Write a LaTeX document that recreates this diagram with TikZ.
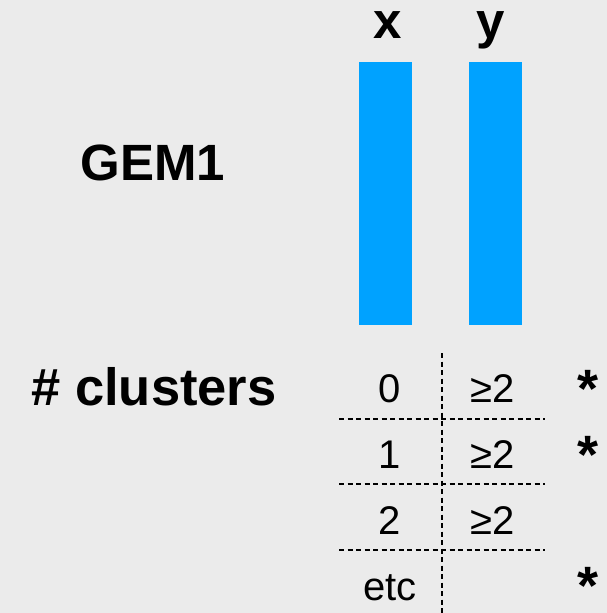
\documentclass[tikz,border=0pt]{standalone}
\usepackage{fontspec}
\setmainfont{Liberation Sans}
\begin{document}
\begin{tikzpicture}[x=1pt,y=-1pt,
  bar/.style={fill=stripblue,draw=none},
  head/.style={font=\fontsize{51}{60}\selectfont\bfseries,anchor=base,inner sep=0pt},
  cell/.style={font=\fontsize{40}{48}\selectfont,anchor=base,inner sep=0pt},
  starmark/.style={font=\fontsize{54}{60}\selectfont\bfseries,anchor=base,inner sep=0pt},
  sep/.style={line width=2.2pt,dash pattern=on 5pt off 3.5pt}]
\definecolor{stripblue}{HTML}{00A2FF}
\definecolor{bg}{HTML}{EBEBEB}
% page background and extent
\fill[bg] (0,0) rectangle (607,613);
\useasboundingbox (0,0) rectangle (607,613);
% strip planes
\fill[bar] (359,62) rectangle (412,325);
\fill[bar] (469,62) rectangle (522,325);
\node[head] (lx) at (388,38) {x};
\node[head] (ly) at (491,38) {y};
\node[head] (gem) at (153,180) {GEM1};
\node[head,font=\fontsize{52.5}{60}\selectfont\bfseries] (ncl) at (154,405) {\# clusters};
% cluster count table
\coordinate (vt) at (442,353);
\coordinate (vb) at (442,613);
\draw[sep] (vt) -- (vb);
\foreach \yy/\nm in {419/a,484/b,550/c}{
  \coordinate (l\nm) at (339,\yy);
  \coordinate (r\nm) at (545,\yy);
  \draw[sep] (l\nm) -- (r\nm);
}
\node[cell] (c0) at (390,402) {0};
\node[cell] (d0) at (493,402) {≥2};
\node[starmark] (s0) at (588,407) {*};
\node[cell] (c1) at (390,468) {1};
\node[cell] (d1) at (493,468) {≥2};
\node[starmark] (s1) at (588,473) {*};
\node[cell] (c2) at (390,534) {2};
\node[cell] (d2) at (493,534) {≥2};
\node[cell] (c3) at (390,600) {etc};
\node[starmark] (s3) at (588,604) {*};
\end{tikzpicture}
\end{document}
